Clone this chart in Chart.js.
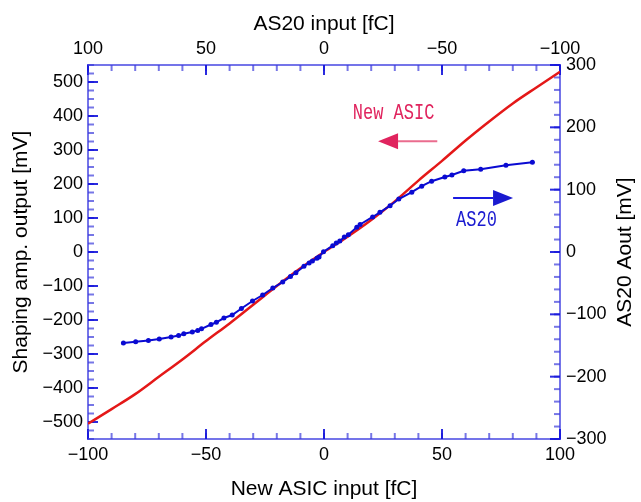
<!DOCTYPE html>
<html>
<head>
<meta charset="utf-8">
<script src="https://cdn.jsdelivr.net/npm/chart.js@4.4.0/dist/chart.umd.min.js"></script>
<style>
    body { margin: 0; background: #fff; }
    #wrap { width: 641px; height: 502px; }
</style>
</head>
<body>
<div id="wrap"><canvas id="chart" width="641" height="502"></canvas></div>
<script>
// New ASIC: bottom axis (input fC) vs left axis (mV)
const asicInput = [-100, -90, -80, -70, -60, -50, -40, -30, -20, -10, 0, 10, 20, 30, 40, 50, 60, 70, 80, 90, 100];
const asicOutput = [-505, -462, -418, -367, -316, -262, -210, -155, -100, -48, 0, 45, 94, 149, 210, 268, 328, 384, 437, 484, 530];

// AS20: top axis (input fC, reversed) vs right axis (mV)
const as20Input = [85.0, 79.8, 74.4, 69.8, 64.8, 61.6, 59.4, 55.8, 53.5, 51.9, 47.9, 45.6, 42.4, 38.9, 35.0,
    30.3, 26.0, 21.7, 17.5, 14.2, 11.9, 8.5, 6.3, 4.9, 3.0, 2.1, 0.2, -3.7, -5.2, -6.7, -8.6, -10.3,
    -13.9, -15.3, -20.6, -23.7, -28.0, -31.7, -37.2, -41.4, -45.6, -51.2, -54.2, -59.2, -66.4, -77.1, -88.3];
const as20Output = [-146.0, -144.1, -142.0, -139.6, -136.4, -134.1, -131.2, -128.3, -125.8, -123.2, -116.3, -112.8, -105.9, -101.1, -90.6,
    -78.6, -69.0, -57.8, -48.1, -39.5, -33.4, -22.8, -17.6, -14.4, -10.1, -8.0, 0.5, 10.1, 14.4, 17.6, 24.1, 27.8,
    39.6, 44.1, 56.2, 63.7, 74.3, 85.0, 95.9, 105.6, 113.6, 120.3, 123.5, 130.3, 132.8, 139.3, 143.9];

// tick labels
const bottomTicks = [-100, -50, 0, 50, 100];
const topTicks = [100, 50, 0, -50, -100];
const leftTicks = [-500, -400, -300, -200, -100, 0, 100, 200, 300, 400, 500];
const rightTicks = [-300, -200, -100, 0, 100, 200, 300];

const tickFont = { family: "'Liberation Sans', Arial, sans-serif", size: 18 };
const titleFont = { family: "'Liberation Sans', Arial, sans-serif", size: 21 };
const axisBlue = 'rgba(70,70,225,0.75)';
const rightTitle = 'AS20 Aout [mV]';

function fmt(v) {
    return v < 0 ? '\u2212' + Math.abs(v) : String(v);
}

function range(a, b, step) {
    const out = [];
    for (let v = a; v <= b + 1e-9; v += step) out.push(v);
    return out;
}

function useTicks(list) {
    return function (scale) {
        scale.ticks = list.map(v => ({ value: v }));
    };
}

function makeAxis(position, min, max, list, title, size, titlePad, tickPad, extra) {
    const vertical = position === 'left' || position === 'right';
    return Object.assign({
        type: 'linear',
        position: position,
        min: min,
        max: max,
        afterBuildTicks: useTicks(list),
        afterFit: function (scale) {
            if (vertical) scale.width = size; else scale.height = size;
        },
        grid: { display: false, drawTicks: false },
        border: { display: true, color: axisBlue, width: 2 },
        ticks: {
            autoSkip: false,
            maxRotation: 0,
            padding: tickPad,
            color: '#000',
            font: tickFont,
            callback: v => fmt(v)
        },
        title: {
            display: title !== '',
            text: title,
            color: '#000',
            font: titleFont,
            padding: { top: titlePad, bottom: titlePad }
        }
    }, extra || {});
}

// small inward tick marks on all four sides
const tickSets = {
    x: { major: bottomTicks, minor: range(-100, 100, 10) },
    x2: { major: topTicks, minor: range(-100, 100, 10) },
    y: { major: leftTicks, minor: range(-550, 550, 25) },
    y2: { major: rightTicks, minor: range(-300, 300, 20) }
};

const inwardTicks = {
    id: 'inwardTicks',
    beforeDatasetsDraw(chart) {
        const ctx = chart.ctx;
        const area = chart.chartArea;
        ctx.save();
        ctx.lineWidth = 2;
        for (const id of Object.keys(tickSets)) {
            const scale = chart.scales[id];
            const set = tickSets[id];
            const draw = (v, len, color) => {
                const p = scale.getPixelForValue(v);
                ctx.strokeStyle = color;
                ctx.beginPath();
                if (id === 'x') { ctx.moveTo(p, area.bottom); ctx.lineTo(p, area.bottom - len); }
                if (id === 'x2') { ctx.moveTo(p, area.top); ctx.lineTo(p, area.top + len); }
                if (id === 'y') { ctx.moveTo(area.left, p); ctx.lineTo(area.left + len, p); }
                if (id === 'y2') { ctx.moveTo(area.right, p); ctx.lineTo(area.right - len, p); }
                ctx.stroke();
            };
            set.minor.forEach(v => draw(v, 6, 'rgba(60,60,220,0.7)'));
            set.major.forEach(v => draw(v, 10, 'rgba(20,20,220,0.9)'));
        }

        // right axis title reads bottom-to-top like the left one
        ctx.fillStyle = '#000';
        ctx.font = titleFont.size + 'px ' + titleFont.family;
        ctx.textAlign = 'center';
        ctx.textBaseline = 'middle';
        ctx.translate(625, (area.top + area.bottom) / 2);
        ctx.rotate(-Math.PI / 2);
        ctx.fillText(rightTitle, 0, 0);
        ctx.restore();
    }
};

// "New ASIC" / "AS20" labels with arrows, placed in data units of the bottom/left axes
const notes = [
    { text: 'New ASIC', x: 29.5, y: 409, color: '#e0245e', lineColor: '#ea6c8e', arrowY: 326, from: 48, to: 22.9 },
    { text: 'AS20', x: 64.6, y: 94, color: '#1a1ad0', lineColor: '#1a1ae0', arrowY: 159, from: 54.7, to: 80.1 }
];

const annotations = {
    id: 'annotations',
    afterDatasetsDraw(chart) {
        const ctx = chart.ctx;
        const xs = chart.scales.x;
        const ys = chart.scales.y;
        ctx.save();
        notes.forEach(n => {
            const tx = xs.getPixelForValue(n.x);
            const ty = ys.getPixelForValue(n.y);
            ctx.save();
            ctx.translate(tx, ty);
            ctx.scale(1, 1.3);
            ctx.fillStyle = n.color;
            ctx.font = "17px 'Liberation Mono', 'DejaVu Sans Mono', monospace";
            ctx.textAlign = 'center';
            ctx.textBaseline = 'middle';
            ctx.fillText(n.text, 0, 0);
            ctx.restore();

            const ay = ys.getPixelForValue(n.arrowY);
            const x0 = xs.getPixelForValue(n.from);
            const x1 = xs.getPixelForValue(n.to);
            const dir = x1 > x0 ? 1 : -1;
            const headLen = 20;
            ctx.strokeStyle = n.lineColor;
            ctx.lineWidth = 2;
            ctx.beginPath();
            ctx.moveTo(x0, ay);
            ctx.lineTo(x1 - dir * headLen, ay);
            ctx.stroke();
            ctx.fillStyle = n.color;
            ctx.beginPath();
            ctx.moveTo(x1, ay);
            ctx.lineTo(x1 - dir * headLen, ay - 8);
            ctx.lineTo(x1 - dir * headLen, ay + 8);
            ctx.closePath();
            ctx.fill();
        });
        ctx.restore();
    }
};

const ctx = document.getElementById('chart').getContext('2d');

new Chart(ctx, {
    type: 'line',
    data: {
        datasets: [
            {
                label: 'AS20',
                data: as20Input.map((v, i) => ({ x: v, y: as20Output[i] })),
                xAxisID: 'x2',
                yAxisID: 'y2',
                borderColor: '#0a0ad2',
                backgroundColor: '#0a0ad2',
                borderWidth: 2,
                pointRadius: 2.5,
                pointBorderWidth: 0,
                tension: 0,
                fill: false
            },
            {
                label: 'New ASIC',
                data: asicInput.map((v, i) => ({ x: v, y: asicOutput[i] })),
                xAxisID: 'x',
                yAxisID: 'y',
                borderColor: '#e41818',
                borderWidth: 2.5,
                pointRadius: 0,
                cubicInterpolationMode: 'monotone',
                fill: false
            }
        ]
    },
    options: {
        responsive: false,
        animation: false,
        layout: { padding: 0 },
        plugins: {
            legend: { display: false },
            tooltip: { enabled: false }
        },
        scales: {
            x: makeAxis('bottom', -100, 100, bottomTicks, 'New ASIC input [fC]', 63, 0, 5),
            x2: makeAxis('top', -100, 100, topTicks, 'AS20 input [fC]', 65, 12, 5, { reverse: true }),
            y: makeAxis('left', -550, 550, leftTicks, 'Shaping amp. output [mV]', 88, 9, 5),
            y2: makeAxis('right', -300, 300, rightTicks, '', 81, 3, 6)
        }
    },
    plugins: [inwardTicks, annotations]
});
</script>
</body>
</html>
